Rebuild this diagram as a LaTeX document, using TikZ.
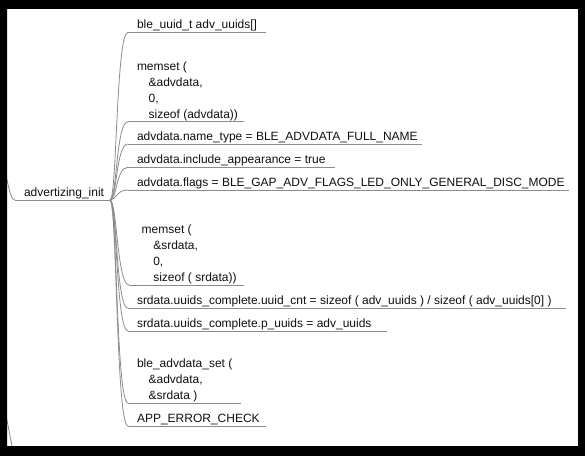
\documentclass[tikz,border=0pt]{standalone}
\usepackage{fontspec}
\setmainfont{Liberation Sans}
\usetikzlibrary{calc}
\definecolor{linkgray}{HTML}{8C8C8C}
\definecolor{textblack}{HTML}{101010}
\tikzset{
  link/.style={draw=linkgray, line width=0.8bp},
  leaf/.style={anchor=base west, inner sep=0pt, outer sep=0pt, text=textblack,
    font=\fontsize{12bp}{16bp}\selectfont},
}
\newcommand{\ind}{\hspace*{11.6bp}}
\newcommand{\blk}[1]{\begin{tabular}[b]{@{}l@{}}#1\end{tabular}}
\begin{document}
\begin{tikzpicture}[x=1bp, y=-1bp]
\useasboundingbox (0,0) rectangle (585,456);
\fill[white] (7,9) rectangle (578,446);

% root
\node[leaf] (root) at (24,196.5) {advertizing\_init};
\coordinate (rl) at (15,200);
\coordinate (rr) at (110,200);
\draw[link] (rl) -- (rr);

% off-picture parent edges
\coordinate (pin) at (0,150);
\draw[link] (pin) .. controls (9,186) and (10,200) .. (rl);
\coordinate (q1) at (3,400);
\coordinate (q2) at (14,456);
\draw[link] (q1) -- (q2);

% underline start points
\coordinate (u1) at (128,32.3);
\coordinate (u2) at (128,121.7);
\coordinate (u3) at (128,144);
\coordinate (u4) at (128,167.3);
\coordinate (u5) at (128,190);
\coordinate (u6) at (129,285);
\coordinate (u7) at (128,308.3);
\coordinate (u8) at (128,331);
\coordinate (u9) at (128,403);
\coordinate (u10) at (128,426);

% children
\node[leaf] (c1) at (137,28.8) {ble\_uuid\_t adv\_uuids[]};
\node[leaf] (c2) at (137,118.2) {\blk{memset (\\ \ind\&advdata,\\ \ind 0,\\ \ind sizeof (advdata))}};
\node[leaf] (c3) at (137,140.5) {advdata.name\_type = BLE\_ADVDATA\_FULL\_NAME};
\node[leaf] (c4) at (137,163.8) {advdata.include\_appearance = true};
\node[leaf] (c5) at (137,186.5) {advdata.flags = BLE\_GAP\_ADV\_FLAGS\_LED\_ONLY\_GENERAL\_DISC\_MODE};
\node[leaf] (c6) at (141.7,281.5) {\blk{memset (\\ \ind\&srdata,\\ \ind 0,\\ \ind sizeof ( srdata))}};
\node[leaf] (c7) at (137,304.8) {srdata.uuids\_complete.uuid\_cnt = sizeof ( adv\_uuids ) / sizeof ( adv\_uuids[0] )};
\node[leaf] (c8) at (137,327.5) {srdata.uuids\_complete.p\_uuids = adv\_uuids};
\node[leaf] (c9) at (137,399.5) {\blk{ble\_advdata\_set (\\ \ind\&advdata,\\ \ind\&srdata )}};
\node[leaf] (c10) at (137,422.5) {APP\_ERROR\_CHECK};

% underlines
\draw[link] (u1) -- ++(138,0);
\draw[link] (u2) -- ++(116,0);
\draw[link] (u3) -- ++(294,0);
\draw[link] (u4) -- ++(207,0);
\draw[link] (u5) -- ++(441,0);
\draw[link] (u6) -- ++(115,0);
\draw[link] (u7) -- ++(438,0);
\draw[link] (u8) -- ++(259,0);
\draw[link] (u9) -- ++(113,0);
\draw[link] (u10) -- ++(138,0);

% connectors from root
\foreach \u in {u1,u2,u3,u4,u5,u6,u7,u8,u9,u10}
  \draw[link] (rr) .. controls +(7,0) and +(-12,0) .. (\u);

% black frame
\fill[black, even odd rule] (0,0) rectangle (585,456) (7,9) rectangle (578,446);
\end{tikzpicture}
\end{document}
